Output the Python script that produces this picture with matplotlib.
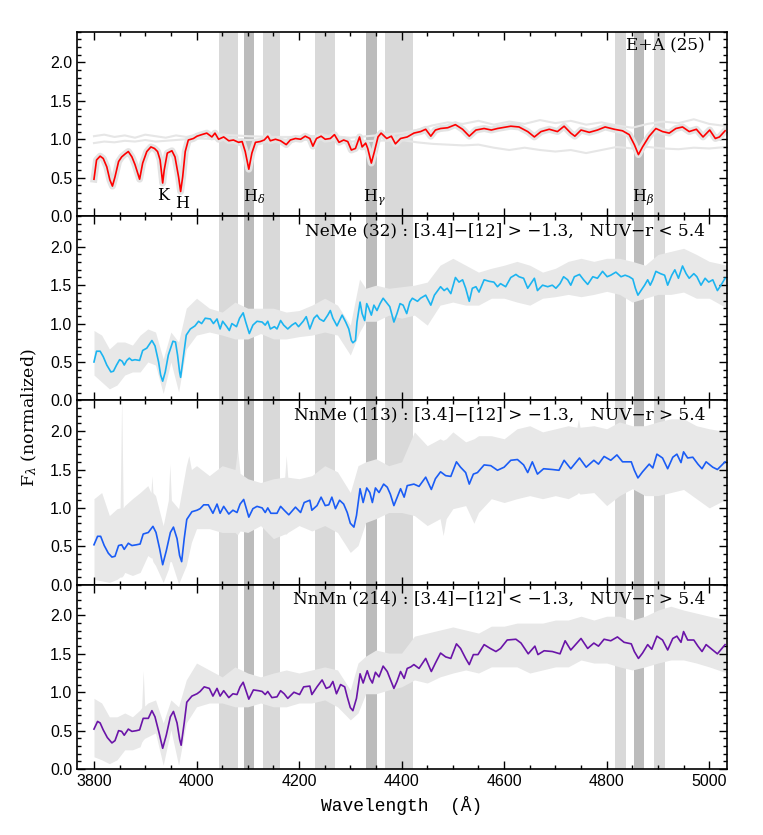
import matplotlib.pyplot as plt
from matplotlib.ticker import MultipleLocator

# ---- E+A stack (top panel) ----
ea_wave = [3800, 3805, 3812, 3818, 3825, 3831, 3836, 3841, 3848, 3854,
           3861, 3867, 3874, 3880, 3889, 3895, 3903, 3911, 3918, 3924,
           3929, 3934, 3937, 3943, 3952, 3958, 3965, 3969, 3973, 3978,
           3984, 3994, 4001, 4010, 4020, 4030, 4036, 4043, 4053, 4063,
           4072, 4082, 4089, 4095, 4102, 4108, 4115, 4124, 4132, 4139,
           4144, 4154, 4164, 4175, 4183, 4193, 4203, 4212, 4221, 4227,
           4234, 4243, 4251, 4261, 4269, 4278, 4287, 4295, 4302, 4310,
           4318, 4323, 4330, 4334, 4341, 4347, 4354, 4360, 4371, 4380,
           4388, 4398, 4411, 4424, 4437, 4447, 4457, 4466, 4476, 4490,
           4505, 4519, 4532, 4545, 4561, 4575, 4587, 4613, 4629, 4646,
           4659, 4672, 4688, 4704, 4717, 4730, 4738, 4750, 4766, 4782,
           4797, 4815, 4831, 4844, 4854, 4862, 4870, 4883, 4896, 4909,
           4922, 4935, 4948, 4961, 4975, 4988, 5001, 5012, 5020, 5031]
ea_flux = [0.48, 0.73, 0.78, 0.75, 0.64, 0.47, 0.39, 0.51, 0.71, 0.77,
           0.81, 0.84, 0.77, 0.67, 0.48, 0.69, 0.84, 0.90, 0.88, 0.84,
           0.73, 0.43, 0.60, 0.82, 0.85, 0.77, 0.51, 0.32, 0.51, 0.84,
           0.99, 1.01, 1.04, 1.06, 1.08, 1.03, 1.08, 1.00, 1.03, 0.98,
           0.99, 0.96, 0.97, 0.84, 0.61, 0.82, 0.96, 0.97, 0.99, 1.04,
           0.98, 1.00, 0.98, 0.93, 0.99, 1.01, 1.00, 1.04, 1.01, 0.91,
           1.01, 1.04, 1.00, 1.01, 1.06, 0.96, 0.99, 0.97, 0.86, 0.88,
           1.03, 0.90, 0.95, 0.88, 0.69, 0.84, 1.03, 1.08, 1.01, 1.04,
           0.94, 1.01, 1.03, 1.08, 1.10, 1.13, 1.04, 1.12, 1.14, 1.15,
           1.19, 1.13, 1.04, 1.12, 1.14, 1.12, 1.14, 1.17, 1.16, 1.10,
           1.03, 1.10, 1.13, 1.10, 1.17, 1.08, 1.04, 1.12, 1.09, 1.12,
           1.16, 1.13, 1.11, 1.06, 0.93, 0.80, 0.90, 1.04, 1.14, 1.10,
           1.08, 1.14, 1.16, 1.10, 1.13, 1.03, 1.12, 1.01, 1.03, 1.11]

# two other E+A templates drawn in light grey
ea_grey_wave = [3800, 3820, 3840, 3860, 3880, 3900, 3920, 3940, 3960, 3980,
                4000, 4050, 4100, 4150, 4200, 4250, 4300, 4350, 4400, 4430,
                4460, 4490, 4520, 4550, 4580, 4610, 4640, 4670, 4700, 4730,
                4760, 4790, 4820, 4850, 4880, 4910, 4940, 4970, 5000, 5035]
ea_grey_hi = [1.04, 1.06, 1.03, 1.05, 1.02, 1.06, 1.04, 1.02, 1.05, 1.03,
              1.06, 1.06, 1.04, 1.03, 1.03, 1.05, 1.02, 1.05, 1.08, 1.12,
              1.18, 1.22, 1.20, 1.24, 1.19, 1.23, 1.20, 1.25, 1.21, 1.24,
              1.19, 1.22, 1.18, 1.15, 1.20, 1.23, 1.21, 1.26, 1.20, 1.17]
ea_grey_lo = [0.95, 0.97, 0.96, 0.98, 0.97, 0.99, 0.97, 0.98, 0.99, 1.00,
              1.01, 1.00, 0.99, 1.00, 0.99, 1.00, 0.97, 0.98, 0.99, 0.96,
              0.94, 0.93, 0.92, 0.93, 0.89, 0.86, 0.89, 0.86, 0.84, 0.86,
              0.82, 0.86, 0.90, 0.88, 0.90, 0.88, 0.87, 0.89, 0.88, 0.90]

# ---- NeMe stack ----
neme_wave = [3800, 3805, 3812, 3818, 3825, 3833, 3838, 3844, 3850, 3855,
             3859, 3864, 3869, 3874, 3880, 3889, 3895, 3903, 3909, 3913,
             3919, 3926, 3930, 3934, 3939, 3945, 3954, 3959, 3963, 3967,
             3969, 3973, 3980, 3988, 3997, 4004, 4010, 4017, 4027, 4033,
             4040, 4046, 4051, 4059, 4064, 4069, 4078, 4084, 4091, 4096,
             4103, 4110, 4118, 4128, 4134, 4139, 4144, 4152, 4157, 4164,
             4170, 4178, 4186, 4193, 4199, 4208, 4214, 4221, 4229, 4235,
             4240, 4248, 4256, 4261, 4266, 4274, 4284, 4291, 4297, 4302,
             4305, 4310, 4313, 4319, 4323, 4328, 4332, 4336, 4341, 4346,
             4352, 4358, 4364, 4371, 4377, 4385, 4391, 4397, 4403, 4410,
             4416, 4421, 4431, 4437, 4447, 4457, 4464, 4476, 4483, 4489,
             4496, 4505, 4512, 4519, 4525, 4532, 4538, 4545, 4551, 4561,
             4571, 4580, 4587, 4593, 4603, 4613, 4623, 4629, 4638, 4646,
             4652, 4659, 4665, 4675, 4685, 4694, 4701, 4709, 4716, 4724,
             4730, 4737, 4747, 4755, 4763, 4773, 4782, 4792, 4801, 4808,
             4818, 4828, 4836, 4844, 4851, 4856, 4861, 4867, 4874, 4880,
             4885, 4890, 4896, 4905, 4913, 4919, 4927, 4933, 4940, 4948,
             4955, 4961, 4970, 4976, 4984, 4992, 4999, 5007, 5016, 5023,
             5031]
neme_flux = [0.50, 0.64, 0.64, 0.57, 0.46, 0.37, 0.38, 0.46, 0.53, 0.51,
             0.46, 0.52, 0.55, 0.52, 0.53, 0.52, 0.65, 0.68, 0.74, 0.78,
             0.71, 0.50, 0.33, 0.25, 0.37, 0.59, 0.77, 0.76, 0.59, 0.37,
             0.30, 0.50, 0.85, 0.93, 0.97, 1.03, 1.00, 1.07, 1.06, 1.00,
             1.06, 0.93, 1.03, 0.96, 0.91, 1.00, 0.96, 1.07, 1.14, 1.02,
             0.87, 0.98, 1.03, 1.02, 0.98, 1.03, 0.93, 0.96, 0.93, 1.04,
             0.98, 0.93, 0.98, 1.01, 0.96, 1.03, 1.09, 0.93, 1.07, 1.11,
             1.06, 1.03, 1.11, 1.17, 1.07, 0.97, 1.11, 1.02, 0.93, 0.78,
             0.75, 0.78, 1.02, 1.28, 1.13, 1.04, 1.26, 1.20, 1.11, 1.24,
             1.17, 1.26, 1.33, 1.27, 1.22, 1.02, 1.13, 1.26, 1.24, 1.13,
             1.28, 1.33, 1.29, 1.33, 1.37, 1.24, 1.37, 1.48, 1.43, 1.46,
             1.39, 1.60, 1.54, 1.57, 1.46, 1.29, 1.46, 1.48, 1.41, 1.57,
             1.55, 1.54, 1.48, 1.52, 1.48, 1.60, 1.64, 1.61, 1.59, 1.46,
             1.52, 1.59, 1.43, 1.50, 1.48, 1.50, 1.46, 1.52, 1.61, 1.57,
             1.50, 1.61, 1.64, 1.57, 1.51, 1.61, 1.59, 1.68, 1.61, 1.63,
             1.67, 1.61, 1.63, 1.61, 1.58, 1.46, 1.37, 1.43, 1.50, 1.57,
             1.50, 1.57, 1.68, 1.65, 1.63, 1.50, 1.63, 1.70, 1.59, 1.75,
             1.65, 1.59, 1.65, 1.61, 1.50, 1.59, 1.54, 1.57, 1.43, 1.50,
             1.59]
neme_env_wave = [3800, 3815, 3830, 3845, 3860, 3875, 3890, 3905, 3920, 3935,
                 3950, 3965, 3980, 4000, 4025, 4050, 4075, 4100, 4125, 4150,
                 4175, 4200, 4225, 4250, 4275, 4300, 4318, 4330, 4350, 4375,
                 4400, 4425, 4450, 4475, 4500, 4525, 4550, 4575, 4600, 4625,
                 4650, 4675, 4700, 4725, 4750, 4775, 4800, 4825, 4850, 4875,
                 4900, 4925, 4950, 4975, 5000, 5035]
neme_env_lo = [0.33, 0.24, 0.15, 0.20, 0.33, 0.37, 0.37, 0.50, 0.46, 0.09,
               0.50, 0.11, 0.67, 0.85, 0.89, 0.85, 0.80, 0.80, 0.87, 0.80,
               0.80, 0.83, 0.85, 0.89, 0.85, 0.59, 0.89, 1.03, 1.03, 1.11,
               1.07, 1.11, 0.98, 1.24, 1.28, 1.24, 1.24, 1.33, 1.33, 1.28,
               1.24, 1.33, 1.35, 1.38, 1.35, 1.38, 1.42, 1.38, 1.28, 1.33,
               1.38, 1.38, 1.41, 1.33, 1.33, 1.20]
neme_env_hi = [0.91, 0.85, 0.67, 0.76, 0.76, 0.72, 0.85, 0.93, 0.89, 0.54,
               0.89, 0.76, 1.20, 1.33, 1.20, 1.15, 1.28, 1.20, 1.20, 1.20,
               1.15, 1.17, 1.24, 1.33, 1.24, 0.98, 1.58, 1.46, 1.50, 1.46,
               1.48, 1.50, 1.54, 1.76, 1.85, 1.76, 1.67, 1.72, 1.76, 1.81,
               1.76, 1.67, 1.72, 1.81, 1.85, 1.81, 1.85, 1.85, 1.81, 1.76,
               1.90, 1.94, 1.98, 1.90, 1.81, 1.76]

# ---- NnMe stack ----
nnme_wave = [3800, 3807, 3813, 3820, 3828, 3835, 3841, 3848, 3854, 3859,
             3867, 3874, 3883, 3890, 3896, 3906, 3915, 3921, 3928, 3934,
             3941, 3949, 3955, 3962, 3967, 3971, 3976, 3981, 3991, 4001,
             4007, 4014, 4023, 4032, 4040, 4046, 4053, 4063, 4071, 4079,
             4085, 4092, 4102, 4110, 4118, 4128, 4134, 4139, 4145, 4157,
             4164, 4171, 4180, 4193, 4203, 4210, 4221, 4225, 4235, 4243,
             4251, 4258, 4264, 4271, 4279, 4287, 4294, 4300, 4307, 4312,
             4319, 4325, 4332, 4338, 4343, 4349, 4356, 4365, 4372, 4378,
             4385, 4391, 4398, 4405, 4411, 4418, 4424, 4434, 4447, 4458,
             4466, 4476, 4486, 4496, 4507, 4515, 4525, 4532, 4540, 4548,
             4561, 4574, 4587, 4600, 4613, 4626, 4638, 4646, 4655, 4665,
             4677, 4694, 4707, 4717, 4730, 4747, 4760, 4775, 4784, 4795,
             4808, 4820, 4831, 4848, 4854, 4861, 4870, 4883, 4890, 4898,
             4909, 4919, 4929, 4937, 4945, 4950, 4958, 4968, 4978, 4986,
             4994, 5007, 5016, 5031]
nnme_flux = [0.52, 0.63, 0.63, 0.51, 0.41, 0.36, 0.37, 0.51, 0.52, 0.46,
             0.54, 0.51, 0.52, 0.53, 0.66, 0.68, 0.76, 0.68, 0.47, 0.26,
             0.44, 0.68, 0.75, 0.60, 0.38, 0.30, 0.60, 0.85, 0.95, 0.97,
             0.99, 1.04, 1.04, 0.93, 1.05, 0.93, 1.02, 0.92, 0.97, 0.94,
             1.05, 1.11, 0.88, 0.99, 1.02, 1.00, 0.94, 1.00, 0.93, 0.93,
             1.02, 0.97, 0.91, 1.01, 0.94, 1.07, 1.10, 0.97, 1.03, 1.14,
             1.03, 1.04, 1.14, 0.99, 1.10, 1.05, 0.94, 0.80, 0.75, 0.90,
             1.25, 1.07, 1.26, 1.20, 1.07, 1.26, 1.20, 1.31, 1.27, 1.18,
             1.03, 1.13, 1.25, 1.14, 1.29, 1.30, 1.31, 1.28, 1.40, 1.24,
             1.38, 1.47, 1.42, 1.41, 1.60, 1.53, 1.46, 1.31, 1.44, 1.46,
             1.56, 1.55, 1.49, 1.53, 1.62, 1.63, 1.56, 1.46, 1.60, 1.44,
             1.51, 1.50, 1.49, 1.62, 1.51, 1.65, 1.53, 1.62, 1.57, 1.67,
             1.62, 1.69, 1.60, 1.60, 1.49, 1.39, 1.47, 1.57, 1.52, 1.70,
             1.65, 1.51, 1.66, 1.70, 1.59, 1.73, 1.65, 1.66, 1.57, 1.51,
             1.60, 1.53, 1.50, 1.60]
nnme_env_wave = [3800, 3815, 3830, 3845, 3851, 3854, 3857, 3860, 3875, 3890,
                 3905, 3911, 3913, 3915, 3920, 3935, 3945, 3948, 3951, 3965,
                 3980, 3985, 3990, 4000, 4025, 4050, 4075, 4080, 4085, 4100,
                 4125, 4150, 4172, 4175, 4178, 4200, 4225, 4250, 4275, 4300,
                 4315, 4330, 4350, 4375, 4400, 4425, 4450, 4475, 4481, 4487,
                 4500, 4525, 4541, 4550, 4575, 4600, 4625, 4650, 4675, 4700,
                 4725, 4742, 4745, 4748, 4775, 4800, 4825, 4850, 4875, 4900,
                 4925, 4950, 4975, 5000, 5035]
nnme_env_lo = [0.07, 0.05, 0.03, 0.07, 0.10, 0.10, 0.12, 0.16, 0.12, 0.16,
               0.38, 0.35, 0.35, 0.30, 0.25, 0.03, 0.20, 0.30, 0.30, 0.01,
               0.25, 0.40, 0.55, 0.73, 0.73, 0.68, 0.68, 0.65, 0.70, 0.68,
               0.77, 0.60, 0.66, 0.66, 0.68, 0.77, 0.70, 0.77, 0.68, 0.42,
               0.51, 0.81, 0.86, 0.94, 0.94, 0.90, 0.77, 0.86, 0.64, 0.86,
               0.99, 1.03, 0.80, 0.94, 1.12, 1.07, 1.12, 1.16, 1.12, 1.16,
               1.12, 1.18, 1.20, 1.18, 1.20, 1.03, 1.16, 1.25, 1.16, 1.16,
               1.20, 1.24, 1.12, 1.00, 1.12]
nnme_env_hi = [1.12, 1.20, 0.90, 0.99, 1.00, 2.45, 1.00, 1.03, 1.12, 1.20,
               1.29, 1.20, 1.42, 1.20, 1.16, 0.77, 1.10, 1.57, 1.10, 0.99,
               1.55, 1.68, 1.50, 1.55, 1.42, 1.55, 1.50, 1.77, 1.45, 1.38,
               1.33, 1.38, 1.40, 1.68, 1.40, 1.38, 1.42, 1.55, 1.47, 1.20,
               1.55, 1.60, 1.64, 1.55, 1.60, 1.99, 1.81, 1.90, 1.88, 1.90,
               1.99, 1.86, 1.90, 1.94, 1.94, 1.90, 2.03, 2.07, 1.99, 2.03,
               2.07, 2.05, 2.16, 2.05, 2.07, 2.03, 2.12, 2.07, 2.07, 2.12,
               2.16, 2.16, 2.07, 2.03, 1.99]

# ---- NnMn stack ----
nnmn_wave = [3800, 3807, 3812, 3818, 3826, 3835, 3841, 3848, 3854, 3859,
             3867, 3874, 3883, 3889, 3896, 3906, 3913, 3919, 3927, 3934,
             3941, 3949, 3955, 3962, 3967, 3970, 3976, 3981, 3991, 4001,
             4007, 4015, 4025, 4032, 4040, 4046, 4053, 4063, 4071, 4079,
             4085, 4091, 4102, 4111, 4121, 4128, 4134, 4139, 4147, 4157,
             4164, 4171, 4178, 4190, 4201, 4209, 4221, 4225, 4235, 4245,
             4253, 4260, 4266, 4273, 4281, 4289, 4294, 4300, 4305, 4312,
             4319, 4325, 4333, 4338, 4343, 4349, 4356, 4364, 4372, 4378,
             4385, 4391, 4398, 4405, 4411, 4418, 4424, 4434, 4447, 4458,
             4466, 4476, 4486, 4496, 4507, 4515, 4525, 4532, 4540, 4549,
             4561, 4573, 4584, 4593, 4606, 4623, 4633, 4647, 4660, 4666,
             4678, 4694, 4709, 4719, 4730, 4750, 4763, 4775, 4784, 4795,
             4808, 4821, 4834, 4848, 4854, 4862, 4870, 4880, 4888, 4898,
             4909, 4919, 4929, 4937, 4945, 4950, 4958, 4970, 4978, 4986,
             4994, 5007, 5016, 5031]
nnmn_flux = [0.52, 0.62, 0.60, 0.51, 0.41, 0.34, 0.37, 0.50, 0.49, 0.44,
             0.52, 0.49, 0.50, 0.51, 0.66, 0.66, 0.76, 0.68, 0.47, 0.27,
             0.44, 0.68, 0.75, 0.60, 0.39, 0.31, 0.60, 0.87, 0.95, 0.98,
             1.01, 1.07, 1.05, 0.95, 1.05, 0.95, 1.02, 0.93, 0.98, 0.97,
             1.07, 1.13, 0.91, 1.03, 1.02, 1.01, 0.97, 1.01, 0.93, 0.94,
             1.02, 0.98, 0.92, 1.00, 0.97, 1.07, 1.08, 0.97, 1.07, 1.16,
             1.05, 1.07, 1.14, 0.98, 1.10, 1.07, 0.94, 0.80, 0.76, 0.92,
             1.24, 1.12, 1.28, 1.18, 1.12, 1.26, 1.20, 1.34, 1.27, 1.17,
             1.05, 1.14, 1.27, 1.18, 1.31, 1.33, 1.36, 1.31, 1.44, 1.27,
             1.38, 1.51, 1.46, 1.44, 1.63, 1.57, 1.44, 1.36, 1.49, 1.49,
             1.62, 1.57, 1.53, 1.57, 1.68, 1.69, 1.64, 1.50, 1.60, 1.49,
             1.54, 1.53, 1.50, 1.67, 1.55, 1.70, 1.57, 1.64, 1.60, 1.69,
             1.67, 1.72, 1.65, 1.63, 1.53, 1.44, 1.51, 1.62, 1.56, 1.73,
             1.68, 1.55, 1.70, 1.73, 1.65, 1.79, 1.68, 1.68, 1.60, 1.53,
             1.62, 1.55, 1.50, 1.62]
nnmn_env_wave = [3800, 3815, 3830, 3845, 3860, 3875, 3890, 3893, 3896, 3899,
                 3905, 3920, 3935, 3950, 3965, 3980, 4000, 4025, 4050, 4075,
                 4100, 4125, 4150, 4175, 4200, 4225, 4250, 4275, 4300, 4315,
                 4330, 4350, 4375, 4400, 4425, 4450, 4475, 4500, 4525, 4550,
                 4575, 4600, 4625, 4650, 4675, 4700, 4725, 4750, 4775, 4800,
                 4825, 4850, 4875, 4900, 4925, 4950, 4975, 5000, 5035]
nnmn_env_lo = [0.16, 0.12, 0.07, 0.12, 0.25, 0.25, 0.29, 0.35, 0.38, 0.40,
               0.42, 0.47, 0.05, 0.51, 0.05, 0.60, 0.81, 0.86, 0.86, 0.81,
               0.81, 0.86, 0.81, 0.81, 0.86, 0.86, 0.90, 0.81, 0.64, 0.73,
               0.98, 0.98, 1.03, 1.07, 1.16, 1.12, 1.20, 1.25, 1.29, 1.25,
               1.33, 1.33, 1.33, 1.25, 1.29, 1.33, 1.33, 1.42, 1.38, 1.38,
               1.33, 1.29, 1.33, 1.38, 1.42, 1.42, 1.38, 1.33, 1.25]
nnmn_env_hi = [0.92, 0.86, 0.68, 0.68, 0.73, 0.68, 0.77, 0.80, 1.28, 0.82,
               0.86, 0.90, 0.60, 0.90, 0.81, 1.16, 1.38, 1.29, 1.20, 1.33,
               1.25, 1.20, 1.25, 1.29, 1.25, 1.29, 1.33, 1.29, 1.03, 1.38,
               1.47, 1.55, 1.51, 1.51, 1.73, 1.77, 1.81, 1.85, 1.81, 1.77,
               1.86, 1.86, 1.90, 1.90, 1.90, 1.94, 1.94, 1.99, 1.94, 1.99,
               1.99, 1.94, 1.99, 2.07, 2.12, 2.07, 2.03, 1.99, 1.94]

# index windows: continuum (light) and Balmer line (dark)
cont_bands = [(4043, 4081), (4129, 4162), (4231, 4271), (4368, 4422),
              (4816, 4837), (4892, 4913)]
line_bands = [(4092, 4112), (4331, 4352), (4853, 4873)]

panel_labels = ['E+A (25)',
                'NeMe (32) : [3.4]\u2212[12] > \u22121.3,   NUV\u2212r < 5.4',
                'NnMe (113) : [3.4]\u2212[12] > \u22121.3,   NUV\u2212r > 5.4',
                'NnMn (214) : [3.4]\u2212[12] < \u22121.3,   NUV\u2212r > 5.4']
line_names = ['K', 'H', r'H$_{\delta}$', r'H$_{\gamma}$', r'H$_{\beta}$']
line_pos = [3935, 3971, 4112, 4346, 4871]
line_y = [0.27, 0.16, 0.25, 0.25, 0.25]

serif = 'DejaVu Serif'
plt.rcParams['mathtext.fontset'] = 'dejavuserif'

fig = plt.figure(figsize=(7.63, 8.35), dpi=100)
left, right = 0.101, 0.953
bottom, top = 0.079, 0.962
h = (top - bottom) / 4

spectra = [(neme_wave, neme_flux, neme_env_wave, neme_env_lo, neme_env_hi, '#1cb4f0'),
           (nnme_wave, nnme_flux, nnme_env_wave, nnme_env_lo, nnme_env_hi, '#1a5cf5'),
           (nnmn_wave, nnmn_flux, nnmn_env_wave, nnmn_env_lo, nnmn_env_hi, '#6a14a8')]

for i in range(4):
    ax = fig.add_axes([left, top - (i + 1) * h, right - left, h])
    for a, b in cont_bands:
        ax.axvspan(a, b, color='#d9d9d9', lw=0, zorder=0)
    for a, b in line_bands:
        ax.axvspan(a, b, color='#bcbcbc', lw=0, zorder=0)

    if i == 0:
        ax.plot(ea_grey_wave, ea_grey_hi, color='#e6e6e6', lw=1.5, zorder=1)
        ax.plot(ea_grey_wave, ea_grey_lo, color='#e6e6e6', lw=1.5, zorder=1)
        ax.plot(ea_wave, ea_flux, color='#e3e3e3', lw=5, zorder=2)
        ax.plot(ea_wave, ea_flux, color='#ff0000', lw=1.2, zorder=3)
        for name, xp, yp in zip(line_names, line_pos, line_y):
            ax.text(xp, yp, name, ha='center', va='center', fontsize=11.5,
                    family=serif)
    else:
        w, f, ew, lo, hi, col = spectra[i - 1]
        ax.fill_between(ew, lo, hi, color='#e8e8e8', lw=0, zorder=1)
        ax.plot(w, f, color=col, lw=1.2, zorder=3)
    ax.text(0.966, 0.922, panel_labels[i], transform=ax.transAxes,
            ha='right', va='center', fontsize=12.2, family=serif)

    ax.set_xlim(3767, 5035)
    ax.set_ylim(0.0, 2.4)
    ax.xaxis.set_major_locator(MultipleLocator(200))
    ax.xaxis.set_minor_locator(MultipleLocator(50))
    ax.yaxis.set_minor_locator(MultipleLocator(0.1))
    ax.set_yticks([0, 0.5, 1.0, 1.5, 2.0])
    ax.set_yticklabels(['0.0', '0.5', '1.0', '1.5', '2.0'])
    ax.tick_params(which='both', direction='in', top=True, right=True,
                   labelsize=11.5, width=1.0)
    ax.tick_params(which='major', length=6)
    ax.tick_params(which='minor', length=3)
    for lab in ax.get_xticklabels() + ax.get_yticklabels():
        lab.set_family('Liberation Sans')
    for s in ax.spines.values():
        s.set_linewidth(1.2)
    if i < 3:
        ax.tick_params(labelbottom=False)
    else:
        ax.set_xlabel('Wavelength  (\u00c5)', fontsize=13,
                      family='Liberation Mono', labelpad=5)

fig.text(0.038, 0.5, r'F$_\lambda$ (normalized)', rotation=90,
         ha='center', va='center', fontsize=12.5, family=serif)

fig.savefig('out.png', dpi=100)
